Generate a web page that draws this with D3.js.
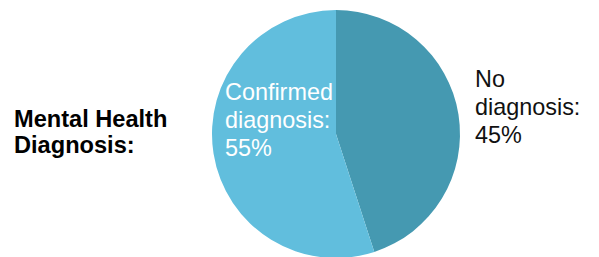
<!DOCTYPE html>
<html>
<head>
<meta charset="utf-8">
<script src="https://cdn.jsdelivr.net/npm/d3@7"></script>
<style>
html,body{margin:0;padding:0;background:#fff;}
svg{display:block;}
text{font-family:"Liberation Sans",Arial,Helvetica,sans-serif;}
</style>
</head>
<body>
<svg id="chart" width="599" height="257"></svg>
<script>
const categories = ["No diagnosis", "Confirmed diagnosis"];
const values = [45, 55];
const colors = ["#4599B1", "#61BEDD"];
const title = ["Mental Health", "Diagnosis:"];

const svg = d3.select("#chart");
const cx = 336, cy = 134, r = 124;

const pie = d3.pie().sort(null).value(d => d.value);
const arc = d3.arc().innerRadius(0).outerRadius(r);
const data = categories.map((c, i) => ({name: c, value: values[i], color: colors[i]}));

const g = svg.append("g").attr("transform", `translate(${cx},${cy})`);
g.selectAll("path").data(pie(data)).join("path")
  .attr("d", arc).attr("fill", d => d.data.color);

function multiline(x, y0, lh, lines, opts) {
  const t = svg.append("text").attr("x", x).attr("y", y0)
    .attr("font-size", opts.size).attr("fill", opts.fill)
    .attr("font-weight", opts.weight || "normal");
  lines.forEach((l, i) => t.append("tspan").attr("x", x).attr("y", y0 + i * lh).text(l));
}

multiline(14, 127, 26, title, {size: 23.6, fill: "#000", weight: "bold"});
multiline(225, 100, 28, ["Confirmed", "diagnosis:", values[1] + "%"], {size: 23.4, fill: "#fff"});
multiline(475, 87, 28, ["No", "diagnosis:", values[0] + "%"], {size: 23.4, fill: "#111"});
</script>
</body>
</html>
